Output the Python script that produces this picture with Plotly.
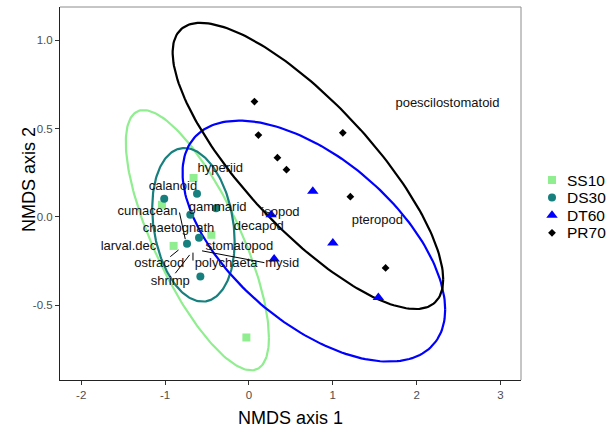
import numpy as np
import plotly.graph_objects as go

# ---------------- data (NMDS site scores) ----------------
groups = ["SS10", "DS30", "DT60", "PR70"]
ss10_x = [-0.66, -1.037, -0.448, -0.898, -0.03]
ss10_y = [0.22, 0.068, -0.102, -0.165, -0.684]
ds30_x = [-1.01, -0.619, -0.392, -0.699, -0.738, -0.595, -0.579]
ds30_y = [0.102, 0.131, 0.049, 0.011, -0.153, -0.119, -0.339]
dt60_x = [0.265, 0.301, 0.762, 1.001, 1.544]
dt60_y = [0.011, -0.239, 0.145, -0.149, -0.457]
pr70_x = [0.066, 0.113, 0.34, 0.448, 1.12, 1.21, 1.63]
pr70_y = [0.653, 0.463, 0.335, 0.267, 0.476, 0.114, -0.29]
# ellipse radius (robust-t 95% ellipse, expressed in sample-sd units)
ellipse_r = [2.15, 2.6, 2.95, 2.64]

# species scores (label positions)
species = ["poescilostomatoid", "pteropod", "hyperiid", "calanoid", "cumacean",
           "gammarid", "isopod", "chaetognath", "decapod", "larval.dec",
           "stomatopod", "ostracod", "polychaeta", "mysid", "shrimp"]
sp_x = [2.368, 1.532, -0.341, -0.906, -1.209, -0.373, 0.376, -0.839, 0.117,
        -1.436, -0.114, -1.069, -0.272, 0.397, -0.938]
sp_y = [0.642, -0.023, 0.271, 0.172, 0.030, 0.049, 0.024, -0.070, -0.059,
        -0.169, -0.169, -0.267, -0.267, -0.267, -0.368]

# repel segments (label -> species point)
seg_label = ["cumacean", "ostracod", "shrimp", "polychaeta", "mysid"]
seg_x0 = [-0.828, -0.938, -0.878, -0.667, -0.559]
seg_y0 = [0.024, -0.226, -0.320, -0.203, -0.193]
seg_x1 = [-0.759, -0.839, -0.707, -0.667, 0.185]
seg_y1 = [-0.127, -0.188, -0.216, -0.248, -0.260]

x_ticks = [-2, -1, 0, 1, 2, 3]
y_ticks = [-0.5, 0.0, 0.5, 1.0]
y_ticktext = ["-0.5", "0.0", "0.5", "1.0"]
x_ticktext = ["-2", "-1", "0", "1", "2", "3"]

# ---------------- styles ----------------
colors = ["#90EE90", "#17807E", "#0000FF", "#000000"]
symbols = ["square", "circle", "triangle-up", "diamond"]
sizes = [8, 8, 10, 6]

gx = [ss10_x, ds30_x, dt60_x, pr70_x]
gy = [ss10_y, ds30_y, dt60_y, pr70_y]

fig = go.Figure()

# ellipses
t = np.linspace(0, 2 * np.pi, 200)
for i, g in enumerate(groups):
    x = np.array(gx[i]); y = np.array(gy[i])
    cov = np.cov(np.vstack([x, y]))
    L = np.linalg.cholesky(cov)
    circ = np.vstack([np.cos(t), np.sin(t)])
    pts = L @ circ * ellipse_r[i]
    fig.add_trace(go.Scatter(x=x.mean() + pts[0], y=y.mean() + pts[1], mode="lines",
                             line=dict(color=colors[i], width=2.2),
                             showlegend=False, hoverinfo="skip"))

# points
for i, g in enumerate(groups):
    fig.add_trace(go.Scatter(x=gx[i], y=gy[i], mode="markers", name=g,
                             marker=dict(symbol=symbols[i], color=colors[i], size=sizes[i],
                                         line=dict(width=0)),
                             showlegend=False))

# segments
for i in range(len(seg_label)):
    fig.add_trace(go.Scatter(x=[seg_x0[i], seg_x1[i]], y=[seg_y0[i], seg_y1[i]],
                             mode="lines", line=dict(color="black", width=1),
                             showlegend=False, hoverinfo="skip"))

# species labels
fig.add_trace(go.Scatter(x=sp_x, y=sp_y, mode="text", text=species,
                         textposition="middle center",
                         textfont=dict(family="Liberation Sans, Arial", size=13, color="#111111"),
                         showlegend=False))

# manual legend in a side axis measured in pixels
for i, g in enumerate(groups):
    ly = 180 + i * 17.6
    fig.add_trace(go.Scatter(x=[552], y=[ly], mode="markers", xaxis="x2", yaxis="y2",
                             marker=dict(symbol=symbols[i], color=colors[i], size=sizes[i],
                                         line=dict(width=0)),
                             showlegend=False, hoverinfo="skip"))
    fig.add_annotation(x=565, y=ly, xref="x2", yref="y2", text=g, showarrow=False,
                       xanchor="left", yanchor="middle",
                       font=dict(family="Liberation Sans, Arial", size=15.5, color="black"))

W, H = 609, 430
ml, mr, mt, mb = 60, 0, 7, 50
plot_w = W - ml - mr
main_frac = 461 / plot_w

fig.update_layout(
    width=W, height=H,
    margin=dict(l=ml, r=mr, t=mt, b=mb),
    paper_bgcolor="white", plot_bgcolor="white",
    showlegend=False,
    font=dict(family="Liberation Sans, Arial"),
    xaxis=dict(domain=[0, main_frac], range=[-2.253, 3.245], showgrid=False, zeroline=False,
               showline=True, linecolor="#222222", linewidth=1,
               ticks="outside", ticklen=4, tickcolor="#333333",
               tickvals=x_ticks, ticktext=x_ticktext,
               tickfont=dict(size=11.5, color="#4D4D4D")),
    yaxis=dict(domain=[0, 1], range=[-0.925, 1.189], showgrid=False, zeroline=False,
               showline=True, linecolor="#222222", linewidth=1,
               ticks="outside", ticklen=4, tickcolor="#333333",
               tickvals=y_ticks, ticktext=y_ticktext,
               tickfont=dict(size=11.5, color="#4D4D4D")),
    xaxis2=dict(domain=[main_frac, 1], range=[521, 609], visible=False, fixedrange=True),
    yaxis2=dict(domain=[0, 1], range=[380, 7], visible=False, anchor="x2", fixedrange=True),
)

# panel border (top / right)
fig.add_shape(type="line", xref="x domain", yref="y domain", x0=0, x1=1, y0=1, y1=1,
              line=dict(color="#8C8C8C", width=1))
fig.add_shape(type="line", xref="x domain", yref="y domain", x0=1, x1=1, y0=0, y1=1,
              line=dict(color="#8C8C8C", width=1))

# axis titles
fig.add_annotation(x=0.5, y=-0.102, xref="x domain", yref="y domain", text="NMDS axis 1",
                   showarrow=False, xanchor="center", yanchor="middle",
                   font=dict(size=18, color="black"))
fig.add_annotation(x=-31 / 461, y=(380 - 180) / 373, xref="x domain", yref="y domain",
                   text="NMDS axis 2", textangle=-90, showarrow=False,
                   xanchor="center", yanchor="middle", font=dict(size=18, color="black"))

fig.write_html("out.html")
